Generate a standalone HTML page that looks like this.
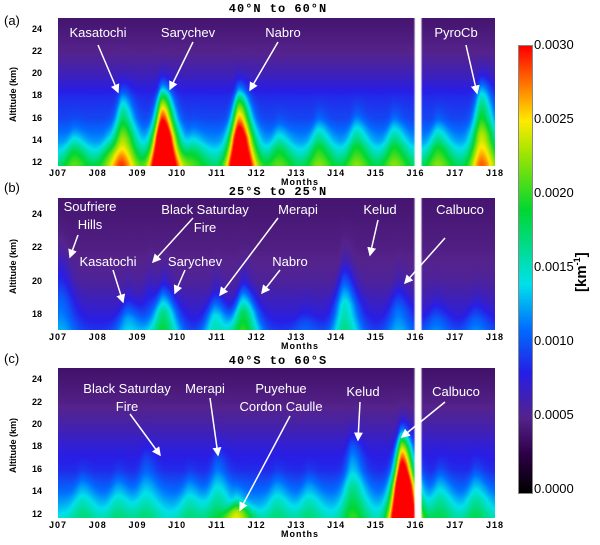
<!DOCTYPE html>
<html><head><meta charset="utf-8"><style>
body{margin:0;background:#fff;width:600px;height:545px;position:relative;overflow:hidden;font-family:"Liberation Sans",sans-serif}
.abs{position:absolute}
canvas{position:absolute}
.ann{position:absolute;color:#fff;font-size:13px;white-space:nowrap;transform:translateX(-50%);text-align:center;line-height:18px}
.tt{position:absolute;font-family:"Liberation Mono",monospace;font-weight:bold;font-size:12px;letter-spacing:1px;transform:translateX(-50%)}
.tick{position:absolute;font-family:"Liberation Sans",sans-serif;font-weight:bold;font-size:9px;transform:translate(-50%,0);letter-spacing:1px}
.yt{position:absolute;font-weight:bold;font-size:9px;text-align:right;width:20px}
.pl{position:absolute;font-size:13px}
.cb{position:absolute;font-size:13px;left:534px}
</style></head><body>
<div class="tt" style="left:278px;top:2px">40°N to 60°N</div>
<div class="tt" style="left:278px;top:185px">25°S to 25°N</div>
<div class="tt" style="left:278px;top:354px">40°S to 60°S</div>
<div class="pl" style="left:4px;top:13px">(a)</div>
<div class="pl" style="left:4px;top:180px">(b)</div>
<div class="pl" style="left:4px;top:351px">(c)</div>
<canvas id="ca" width="437" height="148" style="left:58px;top:18px"></canvas>
<canvas id="cbv" width="437" height="132" style="left:58px;top:198px"></canvas>
<canvas id="cc" width="437" height="150" style="left:58px;top:368px"></canvas>
<canvas id="bar" width="13" height="447" style="left:518px;top:45px;border:1px solid #888"></canvas>
<div id="labels"></div>
<svg class="abs" style="left:0;top:0" width="600" height="545" id="arrows">
<defs><marker id="ah" markerWidth="6" markerHeight="6" refX="5" refY="3" orient="auto"><path d="M0,0L6,3L0,6z" fill="#fff"/></marker></defs>
</svg>
<div class="cb" style="top:37px">0.0030</div><div class="cb" style="top:111px">0.0025</div><div class="cb" style="top:185px">0.0020</div><div class="cb" style="top:259px">0.0015</div><div class="cb" style="top:333px">0.0010</div><div class="cb" style="top:407px">0.0005</div><div class="cb" style="top:481px">0.0000</div>
<div class="abs" style="left:572px;top:262px;transform:rotate(-90deg);transform-origin:left top;font-weight:bold;font-size:15px;width:60px"><span style="position:relative;left:-30px">[km<sup style="font-size:9px">-1</sup>]</span></div>
<script>
const years=["J07","J08","J09","J10","J11","J12","J13","J14","J15","J16","J17","J18"];
const aTimes=[2008.62,2009.62,2011.55,2017.65,2007.4,2008.25,2010.4,2012.55,2013.55,2014.5,2015.45,2016.55];
const aAmps=[0.0011,0.0026,0.0023,0.0012,0.0005,0.0004,0.0004,0.0005,0.0006,0.0006,0.0006,0.0006];
const aTops=[18.5,18.8,18.6,19.5,15,14.5,15,15.5,16.2,16.5,16.3,16];
const bTimes=[2007.05,2008.75,2009.3,2009.65,2010.95,2011.65,2014.2,2015.55,2016.5,2017.5,2013.2];
const bAmps=[0.0004,0.0005,0.0002,0.0009,0.0007,0.0011,0.0008,0.0004,0.0003,0.0003,0.0002];
const bTops=[22,19.2,21,20,19.5,20,21.2,20.2,19,19,18.5];
const cTimes=[2009.2,2011.0,2011.5,2014.4,2015.65,2007.6,2008.5,2010.3,2012.5,2013.3,2016.6,2017.5];
const cAmps=[0.0003,0.0004,0.0010,0.0006,0.0030,0.0003,0.0003,0.0003,0.0003,0.0003,0.0004,0.0004];
const cTops=[18,18,13.5,19.2,19.5,16,16,16,16,16,16.5,16.5];
const aBg=[[12,0.0016],[14,0.0012],[16,0.00095],[18,0.00085],[20,0.00065],[22,0.0005],[25,0.0004]];
const bBg=[[17,0.0009],[18,0.00075],[20,0.00055],[22,0.00047],[25,0.0004]];
const cBg=[[12,0.0014],[14,0.0011],[16,0.00085],[18,0.00075],[20,0.0006],[22,0.00048],[25,0.00038]];
const cmap=[[0,0,0,0],[0.00025,45,0,70],[0.0005,85,35,140],[0.0008,40,30,230],[0.0011,0,110,255],[0.0014,0,225,235],[0.0019,0,215,50],[0.0023,170,230,0],[0.0025,255,235,0],[0.0027,255,140,0],[0.003,255,0,0]];
function col(v){v=Math.max(0,Math.min(0.003,v));for(let i=1;i<cmap.length;i++){if(v<=cmap[i][0]){const a=cmap[i-1],b=cmap[i],f=(v-a[0])/(b[0]-a[0]);return [a[1]+f*(b[1]-a[1]),a[2]+f*(b[2]-a[2]),a[3]+f*(b[3]-a[3])];}}return [255,0,0];}
function interp(bg,z){if(z<=bg[0][0])return bg[0][1];for(let i=1;i<bg.length;i++)if(z<=bg[i][0]){const f=(z-bg[i-1][0])/(bg[i][0]-bg[i-1][0]);return bg[i-1][1]+f*(bg[i][1]-bg[i-1][1]);}return bg[bg.length-1][1];}
function xScale(t){return (t-2007)/11*437;}
function draw(id,times,amps,tops,bg,z0,z1){
 const c=document.getElementById(id),g=c.getContext('2d'),W=c.width,H=c.height,img=g.createImageData(W,H);
 for(let py=0;py<H;py++){const z=z1-(py/H)*(z1-z0);
  for(let px=0;px<W;px++){const t=2007+px/W*11;let v=interp(bg,z);
   for(let k=0;k<times.length;k++){const dz=tops[k]-z0;const rel=Math.max(0,(tops[k]-z)/dz);
    const w=(t<times[k]?0.1:0.2)+0.22*rel;const dt=(t-times[k])/w;
    const gz=1/(1+Math.exp((z-tops[k])/0.6));v+=amps[k]*Math.exp(-dt*dt)*gz*(0.4+0.6*Math.min(1,rel*1.6));}
   const [r,gg,b]=col(v);const i=(py*W+px)*4;img.data[i]=r;img.data[i+1]=gg;img.data[i+2]=b;img.data[i+3]=255;}}
 g.putImageData(img,0,0);g.fillStyle='#fff';g.fillRect(xScale(2016)-1,0,7,H);
}
draw('ca',aTimes,aAmps,aTops,aBg,11.7,25.1);
draw('cbv',bTimes,bAmps,bTops,bBg,17.1,25);
draw('cc',cTimes,cAmps,cTops,cBg,11.7,25.1);
const bc=document.getElementById('bar').getContext('2d');
for(let y=0;y<447;y++){const [r,g,b]=col(0.003*(1-y/446));bc.fillStyle=`rgb(${r|0},${g|0},${b|0})`;bc.fillRect(0,y,13,1);}
const L=document.getElementById('labels');
function add(html,cls,x,y,name){const d=document.createElement('div');d.className=cls;d.style.left=x+'px';d.style.top=y+'px';d.innerHTML=html;


L.appendChild(d);}
[[166,11.7,25.1,[12,14,16,18,20,22,24]],[330,17.1,25,[18,20,22,24]],[518,11.7,25.1,[12,14,16,18,20,22,24]]].forEach((p,pi)=>{
 const bot=p[0],top=[18,198,368][pi];
 years.forEach((yl,i)=>add(yl,'tick',58+i*437/11,bot+2,'x-tick-label'));
 add('Months','tick',300,bot+11,'x-axis-title');
 p[3].forEach(z=>add(z,'yt',22,bot-(z-p[1])/(p[2]-p[1])*(bot-top)-6,'y-tick-label'));
 const d=document.createElement('div');d.className='abs';d.style.cssText=`left:8px;top:${(top+bot)/2+30}px;transform:rotate(-90deg);transform-origin:left top;font-size:9px;font-weight:bold;white-space:nowrap`;d.textContent='Altitude (km)';
 
 
 L.appendChild(d);
});
const anns=[["Kasatochi",98,24,98,45,118,92],["Sarychev",188,24,193,42,170,89],["Nabro",283,24,278,42,250,90],["PyroCb",456,24,466,45,477,93],
["Soufriere<br>Hills",90,198,78,235,70,257],["Kasatochi",108,253,113,270,123,302],["Black Saturday<br>Fire",205,201,193,218,153,262],["Sarychev",195,253,185,270,175,293],["Merapi",298,201,278,218,220,295],["Nabro",290,253,280,270,262,293],["Kelud",380,201,378,220,370,255],["Calbuco",460,201,445,238,405,283],
["Black Saturday<br>Fire",127,380,130,414,160,455],["Merapi",205,380,210,398,218,455],["Puyehue<br>Cordon Caulle",281,380,290,416,240,510],["Kelud",363,383,360,402,358,440],["Calbuco",456,383,445,402,402,437]];
const S=document.getElementById('arrows');
anns.forEach(a=>{add(a[0],'ann',a[1],a[2],'volcano-label');
 const l=document.createElementNS('http://www.w3.org/2000/svg','line');
 l.setAttribute('x1',a[3]);l.setAttribute('y1',a[4]);l.setAttribute('x2',a[5]);l.setAttribute('y2',a[6]);
 l.setAttribute('stroke','#fff');l.setAttribute('stroke-width','1.5');l.setAttribute('marker-end','url(#ah)');
 
 
 S.appendChild(l);});
</script>
</body></html>
